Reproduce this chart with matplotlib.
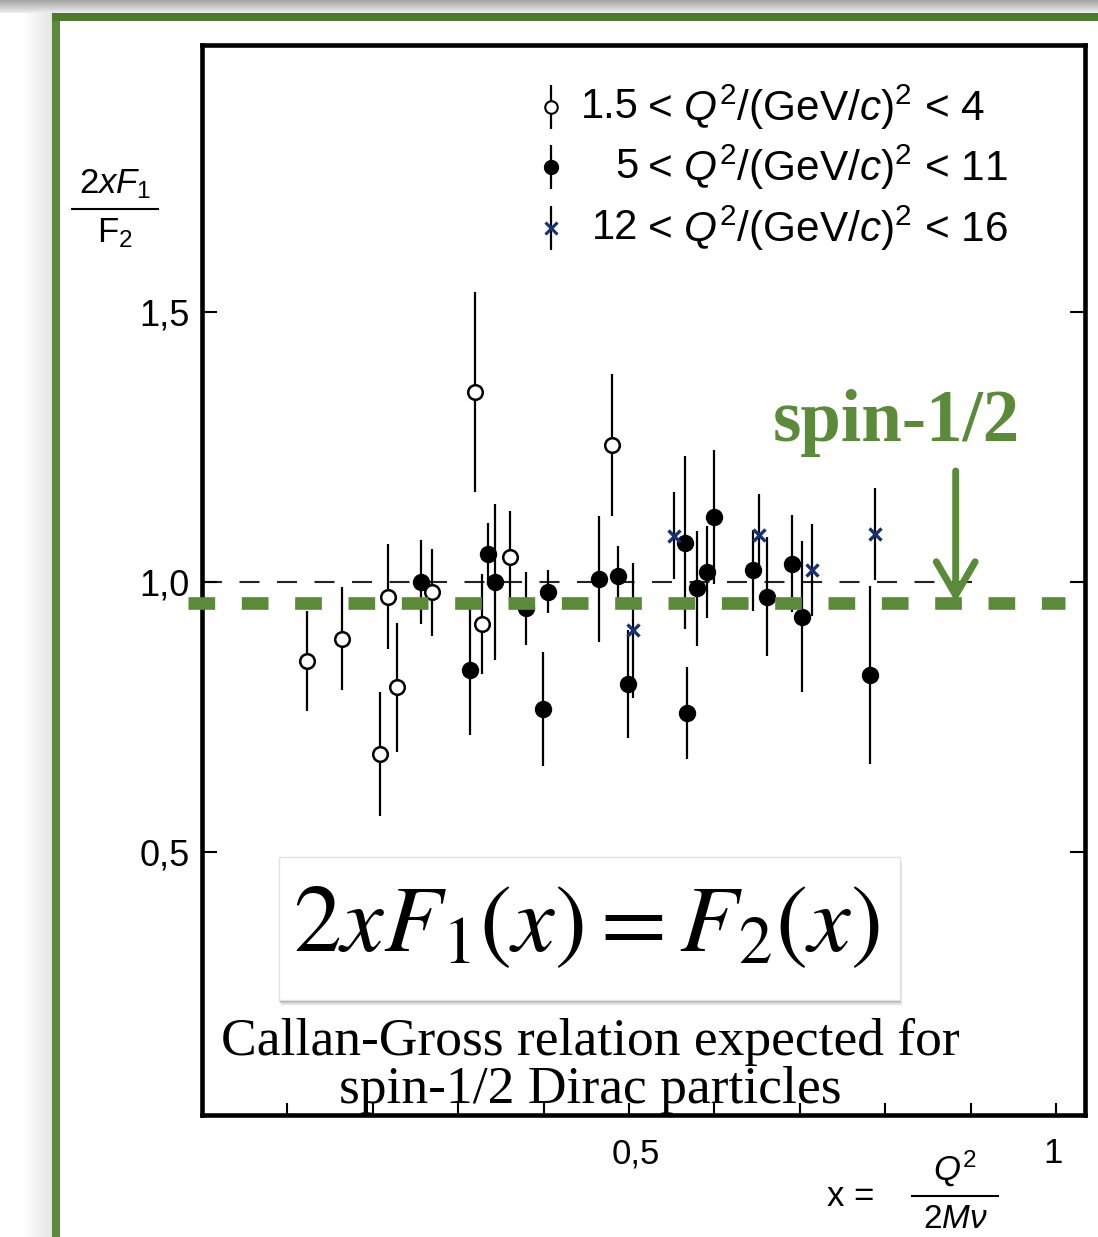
import matplotlib
matplotlib.use('Agg')
import matplotlib.pyplot as plt
import matplotlib.transforms as mtrans
import numpy as np
from matplotlib.patches import Rectangle, FancyArrowPatch
from matplotlib.lines import Line2D

plt.rcParams['font.family'] = ['Liberation Sans', 'DejaVu Sans']
plt.rcParams['mathtext.fontset'] = 'custom'
plt.rcParams['mathtext.rm'] = 'Liberation Sans'
plt.rcParams['mathtext.it'] = 'Liberation Sans:italic'
plt.rcParams['mathtext.bf'] = 'Liberation Sans:bold'

# ---------------- data ----------------
open_x = [0.123, 0.164, 0.208, 0.218, 0.228, 0.269, 0.320, 0.328, 0.361, 0.480]
open_y = [0.854, 0.895, 0.682, 0.973, 0.805, 0.981, 1.352, 0.922, 1.047, 1.253]
open_err = [0.092, 0.095, 0.115, 0.097, 0.120, 0.080, 0.185, 0.093, 0.085, 0.131]

filled_x = [0.256, 0.314, 0.335, 0.343, 0.379, 0.399, 0.405, 0.465, 0.487, 0.499,
            0.566, 0.568, 0.580, 0.591, 0.600, 0.645, 0.662, 0.691, 0.703, 0.782]
filled_y = [1.000, 0.837, 1.052, 1.000, 0.951, 0.765, 0.982, 1.006, 1.011, 0.811,
            1.073, 0.757, 0.988, 1.019, 1.121, 1.022, 0.973, 1.034, 0.936, 0.828]
filled_err = [0.078, 0.120, 0.058, 0.145, 0.067, 0.105, 0.040, 0.117, 0.055, 0.100,
              0.160, 0.085, 0.106, 0.085, 0.124, 0.075, 0.110, 0.090, 0.140, 0.165]

cross_x = [0.505, 0.553, 0.652, 0.714, 0.788]
cross_y = [0.911, 1.086, 1.087, 1.022, 1.089]
cross_err = [0.125, 0.080, 0.075, 0.085, 0.085]

legend_low = ['1.5', '5', '12']
legend_high = ['4', '11', '16']

x_ticks = [0.1, 0.2, 0.3, 0.4, 0.5, 0.6, 0.7, 0.8, 0.9, 1.0]
x_ticklabels = ['', '', '', '', '0,5', '', '', '', '', '1']
y_ticks = [0.5, 1.0, 1.5]
y_ticklabels = ['0,5', '1,0', '1,5']

callan_gross_level = 1.0
spin_half_level = 0.961

GREEN = '#5a8a3a'
GREEN_DARK = '#4e7a2e'

W, H = 1098, 1237
fig = plt.figure(figsize=(W / 100, H / 100), dpi=100)
fig.patch.set_facecolor('white')


def fx(px):
    return px / W


def fy(py):
    return 1 - py / H


# ---------------- slide background decorations ----------------
bg = fig.add_axes([0, 0, 1, 1], zorder=-10)
bg.set_axis_off()
bg.set_xlim(0, W)
bg.set_ylim(H, 0)
grad = np.linspace(0.64, 0.93, 40)[:, None] * np.ones((1, 10))
bg.imshow(np.dstack([grad, grad, grad]), extent=(0, W, 13, 0), aspect='auto')
sh = np.linspace(1.0, 0.90, 30)[None, :] * np.ones((10, 1))
bg.imshow(np.dstack([sh, sh, sh]), extent=(22, 52, H, 13), aspect='auto')
bg.add_patch(Rectangle((52, 13), 8, H - 13, color=GREEN, lw=0))
bg.add_patch(Rectangle((52, 13), W - 52, 7.5, color=GREEN_DARK, lw=0))

# ---------------- main axes ----------------
ax = fig.add_axes([fx(202), fy(1115), (1085 - 202) / W, (1115 - 45) / H])
ax.set_xlim(0, 1.034)
ax.set_ylim(0.0139, 1.9935)
for s in ax.spines.values():
    s.set_linewidth(3.3)

ax.set_xticks(x_ticks)
ax.set_xticklabels(x_ticklabels)
ax.set_yticks(y_ticks)
ax.set_yticklabels(y_ticklabels)
ax.tick_params(axis='x', direction='in', length=9, width=1.5, pad=16, labelsize=25)
ax.tick_params(axis='y', direction='in', length=11, width=1.5, pad=9, labelsize=26,
               left=True, right=True)
# the "0,5" label sits slightly right of its tick in the original
offs = mtrans.ScaledTranslation(7 / 100, 0, fig.dpi_scale_trans)
ax.get_xticklabels()[4].set_transform(ax.get_xticklabels()[4].get_transform() + offs)
offs2 = mtrans.ScaledTranslation(-3 / 100, 0, fig.dpi_scale_trans)
ax.get_xticklabels()[9].set_transform(ax.get_xticklabels()[9].get_transform() + offs2)

# reference line 2xF1/F2 = 1
ax.plot([0, 0.92], [callan_gross_level] * 2, color='#222222', lw=1.5,
        dashes=(9.6, 8.4), zorder=1)

ekw = dict(ls='none', ecolor='black', elinewidth=1.6, capsize=0, zorder=3)
ax.errorbar(open_x, open_y, yerr=open_err, fmt='o', ms=10.5, mfc='white',
            mec='black', mew=1.8, **ekw)
ax.errorbar(filled_x, filled_y, yerr=filled_err, fmt='o', ms=11.5, mfc='black',
            mec='black', **ekw)
ax.errorbar(cross_x, cross_y, yerr=cross_err, fmt='x', ms=9, mec='#17306e',
            mew=2.4, **ekw)

# legend (manual)
leg_x = 0.409
leg_y = [1.879, 1.768, 1.655]
ax.errorbar([leg_x], [leg_y[0]], yerr=[0.04], fmt='o', ms=9, mfc='white', mec='black',
            mew=1.5, **ekw)
ax.errorbar([leg_x], [leg_y[1]], yerr=[0.04], fmt='o', ms=10, mfc='black', mec='black',
            **ekw)
ax.errorbar([leg_x], [leg_y[2]], yerr=[0.04], fmt='x', ms=8, mec='#17306e', mew=2.2,
            **ekw)
for yy, lo, hi in zip(leg_y, legend_low, legend_high):
    ax.text(0.511, yy, lo, fontsize=30, ha='right', va='center')
    ax.text(0.521, yy, r'< $Q^2$/(GeV/$c$)$^2$ < ' + hi, fontsize=30.5,
            ha='left', va='center')

# green spin-1/2 expectation line (extends slightly past the left spine)
ax.add_line(Line2D([-0.0164, 1.0106], [spin_half_level] * 2, color=GREEN, lw=9.1,
                   dashes=(2.11, 2.11), dash_capstyle='butt', clip_on=False,
                   zorder=5))

# ---------------- annotations ----------------
fig.text(fx(773), fy(441), 'spin-1/2', family='Liberation Serif', weight='bold',
         fontsize=52.5, color=GREEN, ha='left', va='baseline')
arr = FancyArrowPatch((fx(955.7), fy(471)), (fx(955.7), fy(602)),
                      transform=fig.transFigure,
                      arrowstyle='->,head_length=1.2,head_width=0.7',
                      mutation_scale=20, lw=5, color=GREEN, shrinkA=0, shrinkB=0,
                      zorder=6)
fig.add_artist(arr)

# equation box with shadow
bx0, by0, bx1, by1 = 279, 857, 900, 1000
for off, col, a in [(5, '#cfcfcf', 0.6), (3, '#b5b5b5', 0.6), (1.5, '#9a9a9a', 0.5)]:
    fig.add_artist(Rectangle((fx(bx0 + off * 0.3), fy(by1 + off)),
                             (bx1 - bx0) / W, (by1 - by0) / H,
                             transform=fig.transFigure, color=col, alpha=a, lw=0,
                             zorder=7))
fig.add_artist(Rectangle((fx(bx0), fy(by1)), (bx1 - bx0) / W, (by1 - by0) / H,
                         transform=fig.transFigure, facecolor='white',
                         edgecolor='#e2e2e2', lw=1, zorder=8))
fig.text(fx(586), fy(926), r'$2xF_1(x) = F_2(x)$', math_fontfamily='stix',
         fontsize=69, ha='center', va='center', zorder=9)

fig.text(fx(590), fy(1066), 'Callan-Gross relation expected for\nspin-1/2 Dirac particles',
         family='Liberation Serif', fontsize=38.5, ha='center', va='center',
         linespacing=1.0, zorder=9)

# y label (fraction)
fig.text(fx(115), fy(184), r'2$xF_1$', fontsize=25, ha='center', va='center')
fig.add_artist(Line2D([fx(72), fx(158)], [fy(209), fy(209)], color='black', lw=1.5,
                      transform=fig.transFigure))
fig.text(fx(115), fy(233), r'F$_2$', fontsize=25, ha='center', va='center')

# x label (fraction)
fig.text(fx(851), fy(1196), 'x =', fontsize=25, ha='center', va='center')
fig.text(fx(955), fy(1169), r'$Q^2$', fontsize=25, ha='center', va='center')
fig.add_artist(Line2D([fx(912), fx(998)], [fy(1196), fy(1196)], color='black', lw=1.5,
                      transform=fig.transFigure))
fig.text(fx(955), fy(1219), r'2$M\nu$', fontsize=24, ha='center', va='center')

fig.savefig('out.png', dpi=100)
